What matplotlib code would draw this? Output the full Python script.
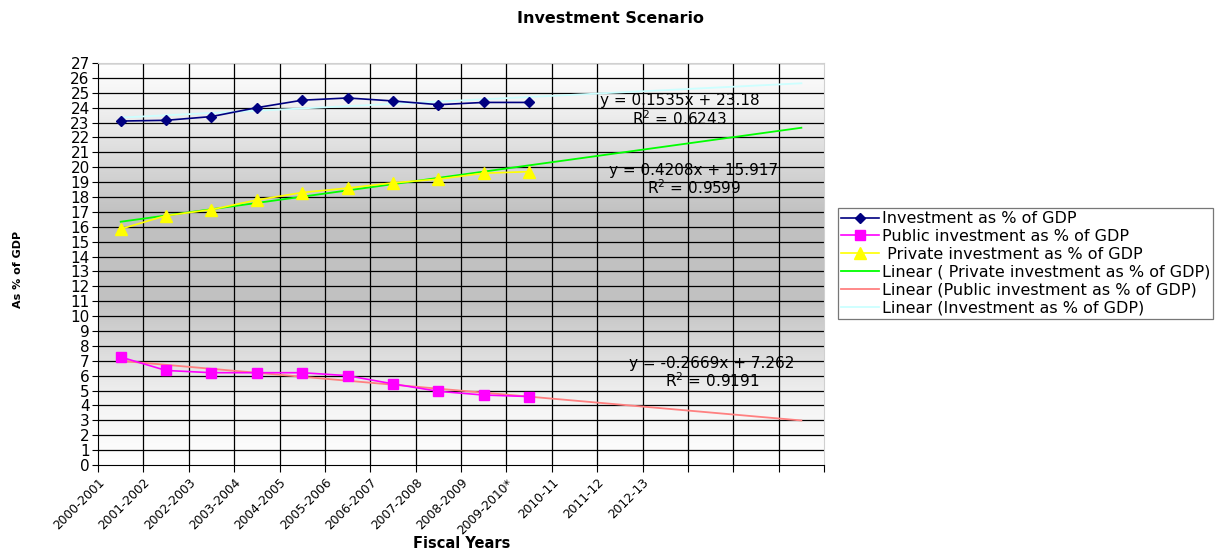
import matplotlib
matplotlib.use('Agg')
import numpy as np
import matplotlib.pyplot as plt
from matplotlib.colors import LinearSegmentedColormap

plt.rcParams['font.family'] = ['DejaVu Sans']

# --- data ---
years = ['2000-2001', '2001-2002', '2002-2003', '2003-2004', '2004-2005',
         '2005-2006', '2006-2007', '2007-2008', '2008-2009', '2009-2010*',
         '2010-11', '2011-12', '2012-13', '', '', '']
investment = [23.1, 23.15, 23.4, 24.0, 24.5, 24.65, 24.45, 24.2, 24.35, 24.35]
public_inv = [7.25, 6.35, 6.2, 6.2, 6.2, 6.0, 5.45, 4.95, 4.7, 4.6]
private_inv = [15.85, 16.75, 17.15, 17.8, 18.3, 18.6, 18.95, 19.2, 19.6, 19.7]

# linear trend coefficients (slope, intercept, R^2)
trend_total = (0.1535, 23.18, 0.6243)
trend_private = (0.4208, 15.917, 0.9599)
trend_public = (-0.2669, 7.262, 0.9191)

n_cat = len(years)
xs = np.arange(1, len(investment) + 1)
xt = np.arange(1, n_cat + 1)

fig = plt.figure(figsize=(12.21, 5.5), dpi=100)
ax = fig.add_axes([0.0803, 0.1545, 0.5946, 0.731])

# plot-area gradient: white at top/bottom, grey in the middle
cmap = LinearSegmentedColormap.from_list(
    'bg', [(0.0, '#ffffff'), (0.15, '#f4f4f4'), (0.28, '#dcdcdc'),
           (0.4, '#c2c2c2'), (0.62, '#c0c0c0'), (0.78, '#dedede'),
           (0.9, '#f2f2f2'), (1.0, '#ffffff')], N=512)
grad = np.linspace(0, 1, 1024).reshape(-1, 1)
ax.imshow(grad, extent=[0.5, n_cat + 0.5, 0, 27], origin='lower', aspect='auto',
          cmap=cmap, interpolation='bilinear', zorder=0)

ax.set_xlim(0.5, n_cat + 0.5)
ax.set_ylim(0, 27)

# grid
for y in range(1, 28):
    ax.axhline(y, color='black', lw=0.9, zorder=1)
for b in np.arange(1.5, n_cat + 0.5):
    ax.axvline(b, color='black', lw=0.9, zorder=1)

# series
ax.plot(xs, investment, color='#000080', marker='D', ms=5.5, lw=1.2, zorder=4,
        label='Investment as % of GDP')
ax.plot(xs, public_inv, color='#ff00ff', marker='s', ms=7.5, lw=1.2, zorder=4,
        label='Public investment as % of GDP')
ax.plot(xs, private_inv, color='#ffff00', marker='^', ms=9, lw=1.2, zorder=4,
        label=' Private investment as % of GDP')

# trendlines, forecast across all categories
for (m, c, r2), col, lab in [
        (trend_private, '#00ff00', 'Linear ( Private investment as % of GDP)'),
        (trend_public, '#ff8080', 'Linear (Public investment as % of GDP)'),
        (trend_total, '#ccffff', 'Linear (Investment as % of GDP)')]:
    ax.plot(xt, m * xt + c, color=col, lw=1.3, zorder=3, label=lab)

def eq_text(m, c):
    sign = '+' if c >= 0 else '-'
    return f'y = {m:g}x {sign} {abs(c):g}'

for (m, c, r2), (x0, y0) in [(trend_total, (13.32, 24.45)),
                             (trend_private, (13.63, 19.8)),
                             (trend_public, (14.03, 6.85))]:
    ax.text(x0, y0, eq_text(m, c), ha='center', va='center', fontsize=11, zorder=5)
    ax.text(x0, y0 - 1.17, f'R$^2$ = {r2:g}', ha='center', va='center',
            fontsize=11, zorder=5)

# axes styling
ax.set_yticks(range(0, 28))
ax.tick_params(axis='y', labelsize=11, length=4, width=0.8, pad=2)
ax.set_xticks(np.arange(0.5, n_cat + 1))
ax.set_xticklabels(years + [''], rotation=45, ha='right', rotation_mode='anchor',
                   fontsize=8.8)
ax.tick_params(axis='x', length=5, width=0.8, pad=3)
for s in ['left', 'bottom']:
    ax.spines[s].set_color('black')
for s in ['top', 'right']:
    ax.spines[s].set_color('#d0d0d0')

fig.text(0.5, 0.967, 'Investment Scenario', ha='center', va='center',
         fontsize=11.5, fontweight='bold')
fig.text(0.378, 0.0127, 'Fiscal Years', ha='center', va='center',
         fontsize=10.5, fontweight='bold')
fig.text(0.015, 0.51, 'As % of GDP', ha='center', va='center', rotation=90,
         fontsize=8, fontweight='bold')

handles, labels = ax.get_legend_handles_labels()
leg = fig.legend(handles, labels, loc='upper left', bbox_to_anchor=(0.686, 0.622),
                 fontsize=11.5, frameon=True, fancybox=False, edgecolor='#555555',
                 borderpad=0.2, labelspacing=0.18, handlelength=2.4,
                 handletextpad=0.15, borderaxespad=0)
leg.get_frame().set_linewidth(0.9)

fig.savefig('out.png', dpi=100)
